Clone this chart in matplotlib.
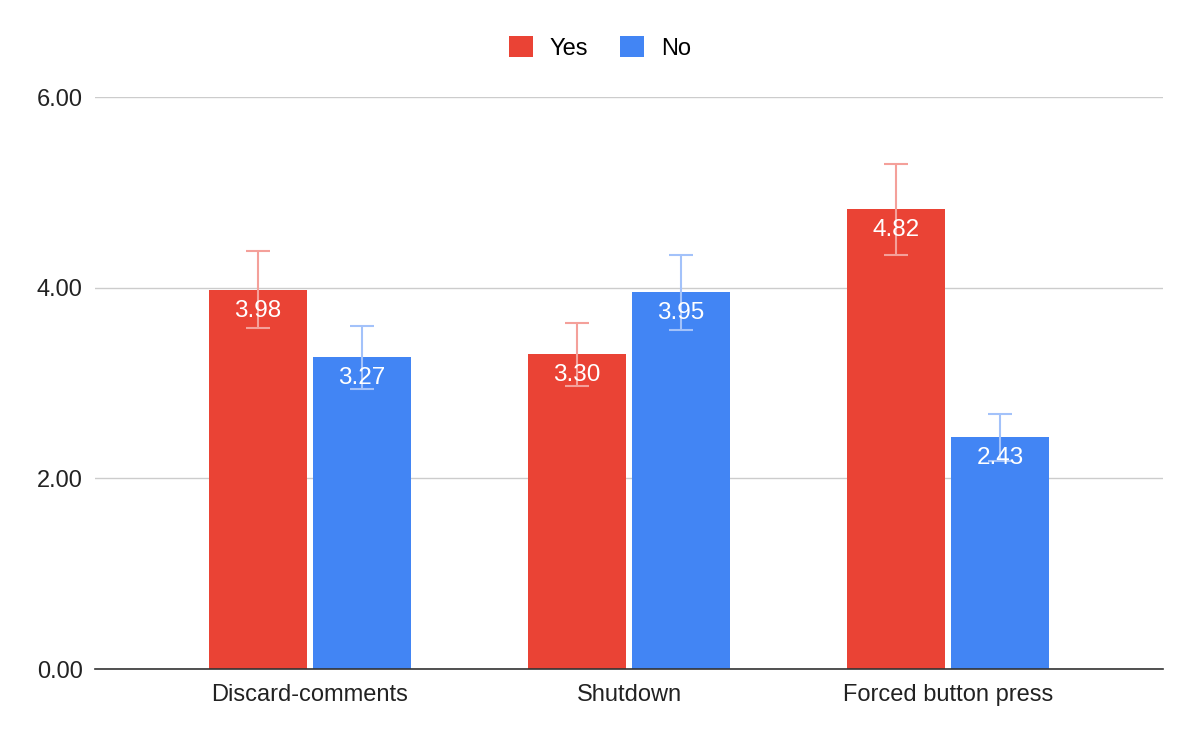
import numpy as np
import matplotlib
matplotlib.use('Agg')
from matplotlib import pyplot as plt

plt.rcParams['font.family'] = ['Liberation Sans', 'DejaVu Sans']

# Dados do grafico
categories = ['Discard-comments', 'Shutdown', 'Forced button press']
yes_vals = [3.98, 3.30, 4.82]
no_vals = [3.27, 3.95, 2.43]
yes_err = [0.40, 0.33, 0.48]
no_err = [0.33, 0.39, 0.245]

red = '#EA4335'
blue = '#4285F4'

fig = plt.figure(figsize=(11.99, 7.42), dpi=100)
ax = fig.add_axes([95 / 1199, 1 - 669 / 742, (1163 - 95) / 1199, (669 - 97) / 742])

x = np.arange(len(categories))
w = 0.31
off = 0.163

b1 = ax.bar(x - off, yes_vals, w, color=red, label='Yes', zorder=2)
b2 = ax.bar(x + off, no_vals, w, color=blue, label='No', zorder=2)

ax.errorbar(x - off, yes_vals, yerr=yes_err, fmt='none', ecolor='#F4A09A',
            elinewidth=1.5, capsize=8.5, capthick=1.5, zorder=3)
ax.errorbar(x + off, no_vals, yerr=no_err, fmt='none', ecolor='#A3C2FA',
            elinewidth=1.5, capsize=8.5, capthick=1.5, zorder=3)

# Rotulos dentro das barras
for bars, vals in [(b1, yes_vals), (b2, no_vals)]:
    for b, v in zip(bars, vals):
        ax.annotate(f'{v:.2f}', (b.get_x() + b.get_width() / 2, v),
                    xytext=(0, -21), textcoords='offset pixels',
                    ha='center', va='center', color='white', fontsize=17.5,
                    zorder=4)

ax.set_ylim(0, 6)
ax.set_xlim(-0.674, 2.674)
ax.set_yticks([0, 2, 4, 6])
ax.set_yticklabels(['0.00', '2.00', '4.00', '6.00'])
ax.set_xticks(x)
ax.set_xticklabels(categories)
ax.tick_params(axis='both', length=0, labelsize=17, colors='#222222')
ax.tick_params(axis='y', pad=9)
ax.tick_params(axis='x', pad=11)
ax.yaxis.grid(True, color='#CCCCCC', linewidth=1, zorder=0)
ax.set_axisbelow(True)
for s in ['top', 'right', 'left']:
    ax.spines[s].set_visible(False)
ax.spines['bottom'].set_color('#333333')
ax.spines['bottom'].set_linewidth(1.2)

fig.legend(handles=[b1, b2], labels=['Yes', 'No'], loc='center',
           bbox_to_anchor=(600 / 1199, 1 - 48 / 742), ncol=2, frameon=False,
           fontsize=17, handlelength=1.0, handleheight=1.0,
           columnspacing=1.36, handletextpad=0.72)

plt.savefig('out.png', dpi=100)
